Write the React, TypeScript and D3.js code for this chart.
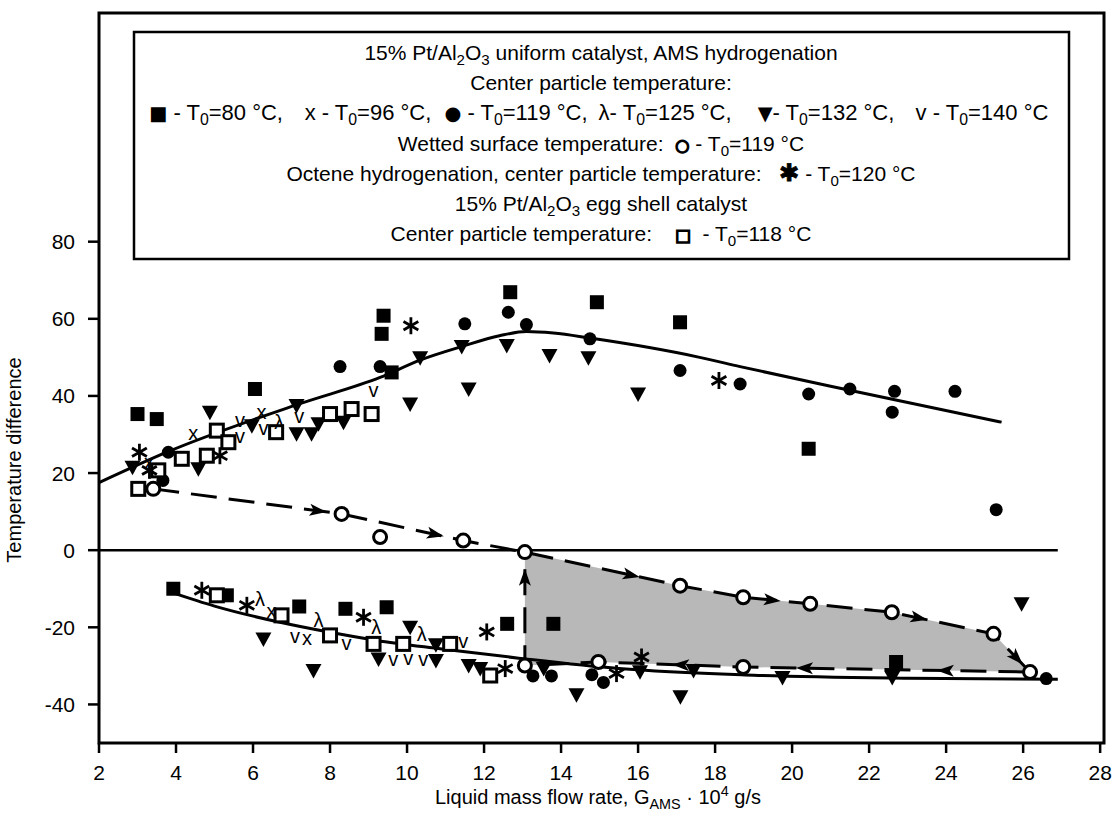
import React from "react";
import * as d3 from "d3";

type P = [number, number];

// ---------- data ----------
const X_TICKS = [2, 4, 6, 8, 10, 12, 14, 16, 18, 20, 22, 24, 26, 28];
const Y_TICKS = [-40, -20, 0, 20, 40, 60, 80];

const filledSquares: P[] = [
  [3.0, 35.3], [3.5, 34], [6.05, 41.8], [9.39, 60.8], [9.34, 56.1], [9.6, 46.1],
  [12.68, 66.9], [14.93, 64.3], [17.09, 59.1], [20.43, 26.3],
  [3.93, -10], [5.32, -11.7], [7.2, -14.6], [8.4, -15.2], [9.47, -14.8],
  [12.6, -19.1], [13.8, -19.1], [22.7, -29],
];
const xMarks: P[] = [[4.45, 30.2], [6.22, 35.5], [3.3, 22.5], [6.48, -16.1], [7.4, -23]];
const filledCircles: P[] = [
  [3.8, 25.4], [3.66, 18.1], [8.26, 47.6], [9.3, 47.6], [11.5, 58.7], [12.63, 61.7],
  [13.1, 58.5], [14.75, 54.8], [17.09, 46.6], [18.65, 43.1], [20.43, 40.5], [21.5, 41.8],
  [22.66, 41.2], [22.6, 35.8], [24.23, 41.2], [25.3, 10.5],
  [13.27, -32.6], [13.75, -32.6], [14.8, -32.3], [15.1, -34.3], [26.6, -33.3],
];
const lambdaMarks: P[] = [[6.68, 33.2], [6.18, -12.6], [7.7, -18.2], [9.2, -20], [10.38, -21.7]];
const triangles: P[] = [
  [2.87, 21.5], [4.88, 35.8], [4.58, 21.1], [5.97, 32.3], [7.13, 30.2], [7.52, 30.2],
  [7.13, 37.5], [7.7, 32.8], [8.35, 33.2], [10.08, 37.9], [10.34, 49.9], [11.42, 52.8],
  [11.6, 41.8], [12.59, 53.1], [13.7, 50.5], [14.71, 49.9], [16.0, 40.5], [25.96, -13.9],
  [6.27, -23], [7.57, -31.2], [9.26, -28.2], [10.08, -20], [10.75, -24.5], [10.75, -28.6],
  [11.6, -29.9], [11.9, -30.7], [13.55, -30.7], [14.4, -37.5], [16.05, -31.5],
  [17.44, -31.2], [17.1, -38], [19.75, -33], [22.6, -33],
];
const vMarks: P[] = [
  [5.66, 33.6], [5.66, 29.3], [6.27, 31.5], [7.2, 34.5], [9.13, 41.4],
  [7.09, -22.5], [8.43, -24.3], [9.64, -28.6], [10.03, -28.2], [10.42, -28.6], [11.46, -23.8],
];
const asterisks: P[] = [
  [3.05, 25.4], [3.31, 20.7], [5.14, 24.5], [10.1, 58.2], [18.1, 44],
  [4.67, -10.4], [5.84, -14.3], [8.87, -17.4], [12.07, -21.2], [12.55, -30.7],
  [16.09, -27.7], [15.44, -32],
];
const openSquares: P[] = [
  [3.02, 15.9], [3.54, 20.7], [4.15, 23.7], [4.8, 24.5], [5.06, 31], [5.36, 28],
  [6.6, 30.6], [8.0, 35.3], [8.56, 36.6], [9.08, 35.3],
  [5.06, -11.7], [6.74, -16.9], [8.0, -22.1], [9.13, -24.3], [9.9, -24.3], [11.12, -24.3],
  [12.16, -32.5],
];
const openCircles: P[] = [
  [3.41, 15.9], [8.3, 9.4], [9.3, 3.4], [11.46, 2.5], [13.06, -0.5], [17.09, -9.2],
  [18.73, -12.2], [20.47, -13.9], [22.59, -16.1], [25.23, -21.7], [26.18, -31.6],
  [18.73, -30.3], [14.97, -29], [13.06, -29.9],
];

const upperCurve: P[] = [
  [2, 17.5], [3.76, 25.4], [7.22, 38], [9.3, 44.8], [10.34, 49.3], [11.42, 52.8],
  [12.4, 55.6], [13.1, 56.7], [13.8, 56.3], [14.75, 55], [17.6, 50], [18.65, 47.6],
  [21, 42.5], [25.44, 33.2],
];
const lowerCurve: P[] = [
  [3.9, -11], [5, -14.5], [6.7, -18.7], [8, -21.3], [9.2, -23.4], [10.9, -25.6],
  [12.9, -28], [15.5, -30.7], [19, -32.4], [23, -33.2], [26.9, -33.5],
];
const zeroLine: P[] = [[2, 0], [26.9, 0]];

// wetted-surface path (dashed, with arrows)
const wettedPath: P[] = [
  [3.41, 15.9], [8.3, 9.4], [11.46, 2.5], [13.06, -0.5], [17.09, -9.2], [18.73, -12.2],
  [20.47, -13.9], [22.59, -16.1], [25.23, -21.7], [26.18, -31.6], [18.73, -30.3],
  [14.97, -29], [13.06, -29.9], [13.06, -0.5],
];
// arrows: [segment index, fraction along segment]
const arrowSegs: number[] = [0, 1, 3, 5, 7, 8, 9, 9, 10, 12];
const arrowFracs: number[] = [0.92, 0.84, 0.74, 0.56, 0.35, 0.8, 0.325, 0.816, 0.49, 0.854];
// shaded region: from index 3 to 12 of wettedPath
const shadeFrom = 3;
const shadeTo = 12;

const legendLine1 = [["15% Pt/Al", ""], ["2", "sub"], ["O", ""], ["3", "sub"], [" uniform catalyst, AMS hydrogenation", ""]];
const legendLine2 = [["Center particle temperature:", ""]];
const legendLine4 = [["Wetted surface temperature:  ", ""], ["○", "osym"], [" - T", ""], ["0", "sub"], ["=119 °C", ""]];
const legendLine5 = [["Octene hydrogenation, center particle temperature:   ", ""], ["✱", "bsym"], [" - T", ""], ["0", "sub"], ["=120 °C", ""]];
const legendLine6 = [["15% Pt/Al", ""], ["2", "sub"], ["O", ""], ["3", "sub"], [" egg shell catalyst", ""]];
const legendLine7 = [["Center particle temperature:    ", ""], ["□", "osym"], ["  - T", ""], ["0", "sub"], ["=118 °C", ""]];
const legendLines = [legendLine1, legendLine2, null, legendLine4, legendLine5, legendLine6, legendLine7];
// third legend line: six chunks (symbol, temperature)
const chunkSymbols = ["■", "x", "●", "λ", "▼", "v"];
const chunkSymKind = ["sym", "", "sym", "", "sym", ""];
const chunkSeps = [" - T", " - T", " - T", "- T", "- T", " - T"];
const chunkTemps = ["=80 °C,", "=96 °C,", "=119 °C,", "=125 °C,", "=132 °C,", "=140 °C"];
const chunkCenters = [216, 368, 516, 665, 826, 982];

// ---------- layout ----------
const W = 1112, H = 818;
const L = 99, R = 1104, T = 13, B = 743;
const FONT = "'Liberation Sans', Arial, Helvetica, sans-serif";
const LFS = 21;

const x = d3.scaleLinear().domain([2, 28.1]).range([L, R]);
const y = d3.scaleLinear().domain([-50, 139.3]).range([B, T]);

const lineGen = d3.line<P>().x(d => x(d[0])).y(d => y(d[1]));
const smoothGen = d3.line<P>().x(d => x(d[0])).y(d => y(d[1])).curve(d3.curveMonotoneX);

function Rich({ parts, size }: { parts: string[][]; size: number }) {
  const out: React.ReactNode[] = [];
  parts.forEach((p, i) => {
    const [t, kind] = p;
    const prev = i > 0 ? parts[i - 1][1] : "";
    const dy = prev === "sub" ? -5 : prev === "sup" ? 8 : 0;
    if (kind === "sub") {
      out.push(<tspan key={i} dy={5} fontSize={size * 0.72}>{t}</tspan>);
    } else if (kind === "sup") {
      out.push(<tspan key={i} dy={-8} fontSize={size * 0.72}>{t}</tspan>);
    } else if (kind === "sym") {
      out.push(<tspan key={i} dy={dy} fontSize={size * 0.88} fontFamily="'DejaVu Sans', sans-serif">{t}</tspan>);
    } else if (kind === "bsym") {
      out.push(<tspan key={i} dy={dy} fontSize={size * 1.15} fontFamily="'DejaVu Sans', sans-serif"
        stroke="#000" strokeWidth={0.8}>{t}</tspan>);
    } else if (kind === "osym") {
      out.push(<tspan key={i} dy={dy} fontSize={size * 0.78} fontFamily="'DejaVu Sans', sans-serif"
        stroke="#000" strokeWidth={1.6}>{t}</tspan>);
    } else {
      out.push(<tspan key={i} dy={dy}>{t}</tspan>);
    }
  });
  return <>{out}</>;
}

function arrowHead(i: number) {
  const s = arrowSegs[i];
  const f = arrowFracs[i];
  const a = wettedPath[s], b = wettedPath[s + 1];
  const ax = x(a[0]), ay = y(a[1]), bx = x(b[0]), by = y(b[1]);
  const tx = ax + (bx - ax) * f, ty = ay + (by - ay) * f;
  const ang = (Math.atan2(by - ay, bx - ax) * 180) / Math.PI;
  return (
    <path key={"ar" + i} d="M0,0 L-17,-6 L-13,0 L-17,6 Z" fill="#000"
      transform={`translate(${tx},${ty}) rotate(${ang})`} />
  );
}

export default function App() {
  const shadePoly = wettedPath.slice(shadeFrom, shadeTo + 1);
  return (
    <svg width={W} height={H} style={{ position: "absolute", left: 0, top: 0, background: "#fff" }}
      fontFamily={FONT}>
      <rect x={0} y={0} width={W} height={H} fill="#fff" />
      {/* shaded area */}
      <path d={lineGen(shadePoly) + "Z"} fill="#b8b8b8" stroke="none" />

      {/* lines */}
      <path d={lineGen(zeroLine)!} stroke="#000" strokeWidth={2.6} fill="none" />
      <path d={smoothGen(upperCurve)!} stroke="#000" strokeWidth={3} fill="none" />
      <path d={smoothGen(lowerCurve)!} stroke="#000" strokeWidth={3} fill="none" />
      <path d={lineGen(wettedPath)!} stroke="#000" strokeWidth={3} fill="none" strokeDasharray="26 12" />
      {arrowSegs.map((_, i) => arrowHead(i))}

      {/* markers */}
      {filledSquares.map((d, i) => (
        <rect key={"fs" + i} x={x(d[0]) - 7} y={y(d[1]) - 7} width={14} height={14} fill="#000" />
      ))}
      {filledCircles.map((d, i) => (
        <circle key={"fc" + i} cx={x(d[0])} cy={y(d[1])} r={6.5} fill="#000" />
      ))}
      {triangles.map((d, i) => (
        <path key={"tr" + i} d="M-8,-6.5 L8,-6.5 L0,8 Z" fill="#000"
          transform={`translate(${x(d[0])},${y(d[1])})`} />
      ))}
      {openSquares.map((d, i) => (
        <rect key={"os" + i} x={x(d[0]) - 6.5} y={y(d[1]) - 6.5} width={13} height={13} fill="#fff"
          stroke="#000" strokeWidth={3} />
      ))}
      {openCircles.map((d, i) => (
        <circle key={"oc" + i} cx={x(d[0])} cy={y(d[1])} r={6.5} fill="#fff" stroke="#000" strokeWidth={3} />
      ))}
      {asterisks.map((d, i) => (
        <g key={"as" + i} transform={`translate(${x(d[0])},${y(d[1])})`} stroke="#000" strokeWidth={2.8}>
          <line x1={0} y1={-8.5} x2={0} y2={8.5} />
          <line x1={-7.4} y1={-4.2} x2={7.4} y2={4.2} />
          <line x1={-7.4} y1={4.2} x2={7.4} y2={-4.2} />
        </g>
      ))}
      {xMarks.map((d, i) => (
        <text key={"xm" + i} x={x(d[0])} y={y(d[1]) + 6} textAnchor="middle" fontSize={20}>x</text>
      ))}
      {vMarks.map((d, i) => (
        <text key={"vm" + i} x={x(d[0])} y={y(d[1]) + 6} textAnchor="middle" fontSize={20}>v</text>
      ))}
      {lambdaMarks.map((d, i) => (
        <text key={"lm" + i} x={x(d[0])} y={y(d[1]) + 7} textAnchor="middle" fontSize={20}>λ</text>
      ))}

      {/* frame */}
      <rect x={L} y={T} width={R - L} height={B - T} fill="none" stroke="#000" strokeWidth={3} />

      {/* x axis */}
      {X_TICKS.map(t => (
        <g key={"xt" + t}>
          <line x1={x(t)} x2={x(t)} y1={B} y2={B + 10} stroke="#000" strokeWidth={2.5} />
          <text x={x(t)} y={B + 37} textAnchor="middle" fontSize={21}>{t}</text>
        </g>
      ))}
      {/* y axis */}
      {Y_TICKS.map(t => (
        <g key={"yt" + t}>
          <line x1={L - 11} x2={L} y1={y(t)} y2={y(t)} stroke="#000" strokeWidth={2.5} />
          <text x={L - 24} y={y(t) + 7.5} textAnchor="end" fontSize={21}>{t}</text>
        </g>
      ))}

      <text x={598} y={804} textAnchor="middle" fontSize={20}>
        <Rich size={20} parts={[["Liquid mass flow rate, G", ""], ["AMS", "sub"], [" · 10", ""], ["4", "sup"], [" g/s", ""]]} />
      </text>
      <text transform="translate(21,460) rotate(-90)" textAnchor="middle" fontSize={20}>Temperature difference</text>

      {/* legend */}
      <rect x={134} y={32} width={935} height={227} fill="#fff" stroke="#000" strokeWidth={2.5} />
      {legendLines.map((ln, i) =>
        ln ? (
          <text key={"lg" + i} x={601} y={60 + i * 30.2} textAnchor="middle" fontSize={LFS}
            style={{ whiteSpace: "pre" }}>
            <Rich size={LFS} parts={ln} />
          </text>
        ) : (
          <g key={"lg" + i}>
            {chunkSymbols.map((s, j) => (
              <text key={j} x={chunkCenters[j]} y={60 + i * 30.2} textAnchor="middle" fontSize={22}
                style={{ whiteSpace: "pre" }}>
                <Rich size={22} parts={[[s, chunkSymKind[j]], [chunkSeps[j], ""], ["0", "sub"], [chunkTemps[j], ""]]} />
              </text>
            ))}
          </g>
        )
      )}
    </svg>
  );
}
